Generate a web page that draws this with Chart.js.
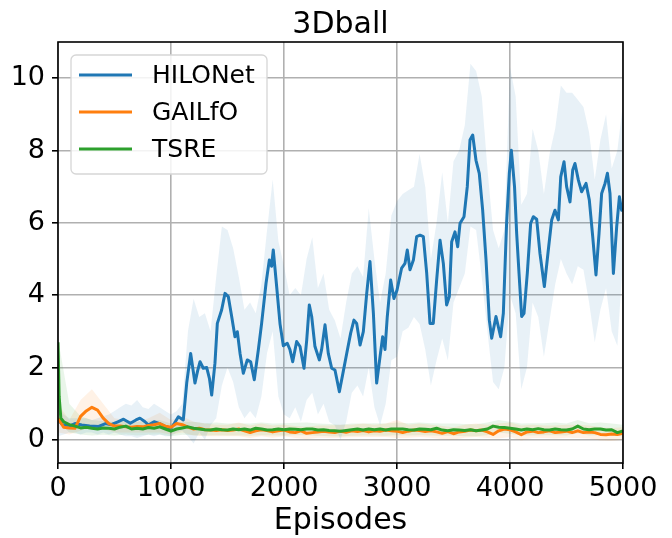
<!DOCTYPE html>
<html>
<head>
<meta charset="utf-8">
<script src="https://cdn.jsdelivr.net/npm/chart.js@4.4.1/dist/chart.umd.min.js"></script>
<style>
  html, body { margin: 0; padding: 0; background: #fff; }
  #chart { display: block; }
</style>
</head>
<body>
<canvas id="chart" width="672" height="538"></canvas>
<script>
// tick labels
const xTicks = [0, 1000, 2000, 3000, 4000, 5000];
const yTicks = [0, 2, 4, 6, 8, 10];

// HILONet mean curve
const hiloEpisodes = [0, 40, 100, 150, 210, 280, 360, 420, 470, 530, 580, 640, 690, 725, 770, 800, 850, 900, 950, 1000,
  1030, 1065, 1109, 1139, 1174, 1212, 1235, 1257, 1286, 1316, 1340, 1360, 1389, 1410, 1448, 1478, 1507, 1537, 1566, 1587,
  1611, 1640, 1675, 1705, 1737, 1773, 1802, 1841, 1870, 1890, 1905, 1935, 1965, 1994, 2029, 2053, 2077, 2112, 2142, 2177,
  2201, 2224, 2245, 2274, 2313, 2333, 2363, 2392, 2422, 2451, 2490, 2525, 2555, 2590, 2619, 2643, 2673, 2702, 2732, 2761,
  2791, 2820, 2850, 2873, 2894, 2914, 2944, 2973, 3000, 3041, 3071, 3091, 3115, 3145, 3174, 3204, 3233, 3263, 3292, 3321,
  3351, 3381, 3410, 3439, 3463, 3484, 3513, 3537, 3558, 3593, 3622, 3646, 3670, 3699, 3728, 3758, 3788, 3817, 3838, 3876,
  3917, 3941, 3970, 3994, 4012, 4040, 4059, 4080, 4103, 4124, 4153, 4183, 4207, 4236, 4265, 4304, 4339, 4369, 4398, 4428,
  4449, 4478, 4501, 4531, 4555, 4575, 4605, 4634, 4673, 4702, 4732, 4761, 4788, 4811, 4841, 4862, 4885, 4915, 4944, 4968,
  4988, 5000];
const hiloValues = [0.55, 0.42, 0.38, 0.45, 0.41, 0.38, 0.37, 0.45, 0.42, 0.5, 0.57, 0.46, 0.55, 0.6, 0.5, 0.41, 0.5, 0.45, 0.37, 0.32,
  0.46, 0.64, 0.55, 1.57, 2.39, 1.57, 1.9, 2.16, 1.98, 2.0, 1.7, 1.24, 2.12, 3.22, 3.59, 4.05, 3.96, 3.41, 2.85, 2.99,
  2.39, 1.84, 2.21, 2.16, 1.66, 2.49, 3.22, 4.33, 4.97, 4.8, 5.25, 4.24, 3.2, 2.6, 2.67, 2.49, 2.16, 2.72, 2.58, 1.98,
  2.76, 3.73, 3.41, 2.58, 2.21, 2.5, 3.18, 2.39, 1.98, 1.93, 1.33, 1.9, 2.39, 2.95, 3.31, 3.22, 2.62, 2.99, 4.05, 4.93,
  3.5, 1.57, 2.3, 2.85, 2.5, 3.41, 4.42, 3.91, 4.14, 4.75, 4.88, 5.25, 4.7, 4.97, 5.62, 5.66, 5.62, 4.6, 3.22, 3.22,
  4.42, 5.52, 4.88, 3.73, 3.96, 5.48, 5.75, 5.34, 5.99, 6.17, 7.0, 8.29, 8.43, 7.73, 7.37, 6.35, 4.97, 3.31, 2.81, 3.41,
  2.85, 3.5, 6.0, 7.37, 8.01, 7.0, 5.71, 4.6, 3.41, 3.5, 4.6, 5.99, 6.17, 6.1, 5.16, 4.24, 5.25, 6.08, 6.35, 6.08,
  7.27, 7.69, 7.0, 6.58, 7.46, 7.64, 7.18, 6.86, 7.09, 6.63, 5.62, 4.56, 5.71, 6.81, 7.09, 7.37, 6.81, 4.6, 5.89, 6.72,
  6.35, 6.4];

// HILONet shaded band
const bandEpisodes = [0, 50, 100, 150, 200, 250, 300, 350, 400, 450, 500, 550, 600, 650, 700, 750, 800, 850, 900, 950,
  1000, 1050, 1100, 1150, 1200, 1250, 1300, 1350, 1400, 1450, 1500, 1550, 1600, 1650, 1700, 1750, 1800, 1850, 1900, 1950,
  2000, 2050, 2100, 2150, 2200, 2250, 2300, 2350, 2400, 2450, 2500, 2550, 2600, 2650, 2700, 2750, 2800, 2850, 2900, 2950,
  3000, 3050, 3100, 3150, 3200, 3250, 3300, 3350, 3400, 3450, 3500, 3550, 3600, 3650, 3700, 3750, 3800, 3850, 3900, 3950,
  4000, 4050, 4100, 4150, 4200, 4250, 4300, 4350, 4400, 4450, 4500, 4550, 4600, 4650, 4700, 4750, 4800, 4850, 4900, 4950,
  5000];
const hiloUpper = [1.0, 0.7, 0.6, 0.6, 0.6, 0.6, 0.55, 0.6, 0.65, 0.7, 0.8, 0.9, 1.0, 0.95, 1.1, 0.9, 0.85, 1.0, 0.9, 0.8,
  0.7, 0.8, 1.0, 3.0, 3.9, 3.4, 3.5, 3.0, 4.5, 5.9, 5.8, 5.3, 4.5, 3.6, 3.8, 3.5, 4.3, 5.8, 7.2, 5.5,
  4.8, 4.0, 4.2, 4.0, 5.0, 5.6, 4.2, 4.6, 3.6, 3.3, 2.8, 3.8, 4.6, 4.8, 4.5, 6.4, 5.0, 3.8, 4.6, 6.2,
  6.6, 6.8, 6.9, 7.0, 7.9, 7.0, 5.0, 6.0, 7.4, 6.0, 7.7, 8.0, 8.7, 10.4, 10.2, 9.5, 7.5, 5.8, 5.3, 5.8,
  10.3, 9.5, 6.5, 6.8, 8.6, 8.0, 6.8, 7.9, 8.6, 9.8, 9.6, 9.6, 9.4, 9.2, 8.5, 7.2, 8.3, 9.0, 7.5, 8.0,
  9.3];
const hiloLower = [0.1, 0.15, 0.2, 0.2, 0.15, 0.2, 0.2, 0.15, 0.2, 0.15, 0.2, 0.15, 0.1, 0.1, 0.05, 0.1, 0.15, 0.1, 0.15, 0.1,
  0.1, 0.2, 0.25, 0.1, -0.1, 0.2, 0.0, 0.4, 0.6, 1.5, 2.0, 1.6, 0.9, 0.6, 0.8, 0.6, 1.2, 2.4, 3.0, 1.2,
  0.7, 0.6, 0.9, 0.5, 1.1, 1.3, 0.7, 1.0, 0.5, 0.4, 0.0, 0.5, 1.3, 1.5, 1.2, 2.0, 0.9, 0.4, 1.0, 2.2,
  2.3, 3.0, 3.1, 3.4, 3.2, 2.5, 1.5, 2.2, 2.8, 2.2, 3.8, 4.2, 4.6, 5.9, 5.8, 4.5, 3.0, 1.6, 1.4, 2.0,
  4.0, 3.5, 1.4, 2.0, 3.8, 3.4, 2.3, 3.3, 4.3, 5.0, 4.6, 4.3, 4.8, 4.7, 3.8, 2.7, 3.6, 4.2, 3.0, 2.6,
  5.0];

// GAILfO mean curve (same episodes as the HILONet band)
const gailValues = [0.6, 0.35, 0.33, 0.32, 0.65, 0.8, 0.9, 0.82, 0.6, 0.45, 0.38, 0.38, 0.36, 0.35, 0.37, 0.36, 0.4, 0.42, 0.45, 0.38,
  0.35, 0.45, 0.42, 0.35, 0.3, 0.32, 0.28, 0.27, 0.26, 0.28, 0.26, 0.27, 0.3, 0.25, 0.2, 0.25, 0.28, 0.26, 0.22, 0.25,
  0.27, 0.22, 0.2, 0.25, 0.18, 0.2, 0.22, 0.24, 0.22, 0.2, 0.24, 0.21, 0.25, 0.23, 0.26, 0.22, 0.25, 0.24, 0.27, 0.25,
  0.24, 0.2, 0.24, 0.27, 0.26, 0.23, 0.25, 0.22, 0.18, 0.23, 0.17, 0.22, 0.24, 0.27, 0.25, 0.27, 0.22, 0.15, 0.25, 0.3,
  0.28, 0.22, 0.14, 0.22, 0.24, 0.2, 0.22, 0.25, 0.2, 0.22, 0.24, 0.2, 0.25, 0.2, 0.22, 0.2, 0.15, 0.14, 0.16, 0.15,
  0.18];

// TSRE mean curve
const tsreEpisodes = [0, 10, 25, 50, 100, 150, 200, 250, 300, 350, 400, 450, 500, 550, 600, 650, 700, 750, 800, 850, 900, 950,
  1000, 1050, 1100, 1150, 1200, 1250, 1300, 1350, 1400, 1450, 1500, 1550, 1600, 1650, 1700, 1750, 1800, 1850, 1900, 1950,
  2000, 2050, 2100, 2150, 2200, 2250, 2300, 2350, 2400, 2450, 2500, 2550, 2600, 2650, 2700, 2750, 2800, 2850, 2900, 2950,
  3000, 3050, 3100, 3150, 3200, 3250, 3300, 3350, 3400, 3450, 3500, 3550, 3600, 3650, 3700, 3750, 3800, 3850, 3900, 3950,
  4000, 4050, 4100, 4150, 4200, 4250, 4300, 4350, 4400, 4450, 4500, 4550, 4600, 4650, 4700, 4750, 4800, 4850, 4900, 4950,
  5000];
const tsreValues = [2.7, 1.2, 0.6, 0.5, 0.42, 0.38, 0.33, 0.35, 0.32, 0.3, 0.33, 0.32, 0.3, 0.35, 0.38, 0.3, 0.32, 0.3, 0.34, 0.32, 0.36, 0.3,
  0.24, 0.3, 0.33, 0.36, 0.32, 0.3, 0.28, 0.27, 0.3, 0.28, 0.27, 0.3, 0.28, 0.3, 0.27, 0.32, 0.3, 0.27, 0.28, 0.3,
  0.28, 0.3, 0.29, 0.28, 0.3, 0.3, 0.27, 0.28, 0.26, 0.25, 0.24, 0.26, 0.28, 0.3, 0.27, 0.3, 0.28, 0.3, 0.27, 0.3,
  0.3, 0.3, 0.28, 0.27, 0.3, 0.29, 0.28, 0.32, 0.27, 0.25, 0.28, 0.27, 0.26, 0.28, 0.25, 0.27, 0.3, 0.38, 0.35, 0.34,
  0.32, 0.3, 0.27, 0.3, 0.28, 0.31, 0.28, 0.27, 0.3, 0.28, 0.27, 0.3, 0.38, 0.3, 0.28, 0.3, 0.3, 0.27, 0.28, 0.2,
  0.25];

// GAILfO / TSRE shaded bands
const smallBandEpisodes = [0, 100, 200, 300, 400, 500, 600, 700, 800, 900, 1000, 1100, 1200, 1300, 1400, 1500, 1600, 1700, 1800, 1900,
  2000, 2100, 2200, 2300, 2400, 2500, 2600, 2700, 2800, 2900, 3000, 3100, 3200, 3300, 3400, 3500, 3600, 3700, 3800, 3900,
  4000, 4100, 4200, 4300, 4400, 4500, 4600, 4700, 4800, 4900, 5000];
const gailUpper = [1.0, 0.55, 1.1, 1.4, 1.0, 0.6, 0.55, 0.5, 0.6, 0.75, 0.55, 0.65, 0.5, 0.45, 0.42, 0.42, 0.48, 0.4, 0.45, 0.4,
  0.42, 0.38, 0.36, 0.4, 0.4, 0.42, 0.42, 0.45, 0.42, 0.45, 0.55, 0.42, 0.45, 0.42, 0.38, 0.35, 0.42, 0.45, 0.42, 0.45,
  0.48, 0.4, 0.42, 0.4, 0.4, 0.42, 0.42, 0.4, 0.35, 0.33, 0.35];
const gailLower = [0.2, 0.15, 0.25, 0.4, 0.3, 0.2, 0.2, 0.2, 0.2, 0.2, 0.15, 0.2, 0.12, 0.1, 0.1, 0.1, 0.1, 0.05, 0.1, 0.06,
  0.1, 0.05, 0.02, 0.06, 0.05, 0.06, 0.07, 0.08, 0.08, 0.08, 0.05, 0.06, 0.08, 0.06, 0.02, 0.0, 0.06, 0.08, 0.05, 0.04,
  0.08, -0.02, 0.05, 0.05, 0.04, 0.06, 0.05, 0.04, -0.02, -0.03, 0.0];
const tsreUpper = [2.8, 1.0, 0.65, 0.55, 0.52, 0.5, 0.55, 0.5, 0.52, 0.55, 0.45, 0.5, 0.5, 0.46, 0.48, 0.45, 0.46, 0.45, 0.48, 0.45,
  0.46, 0.47, 0.48, 0.45, 0.44, 0.42, 0.45, 0.45, 0.46, 0.45, 0.48, 0.46, 0.48, 0.46, 0.45, 0.45, 0.44, 0.43, 0.48, 0.55,
  0.5, 0.45, 0.46, 0.46, 0.48, 0.45, 0.55, 0.46, 0.48, 0.45, 0.42];
const tsreLower = [0.5, 0.2, 0.15, 0.12, 0.14, 0.12, 0.15, 0.12, 0.14, 0.15, 0.1, 0.14, 0.13, 0.12, 0.13, 0.12, 0.12, 0.11, 0.13, 0.12,
  0.12, 0.13, 0.13, 0.11, 0.1, 0.09, 0.11, 0.12, 0.12, 0.11, 0.13, 0.12, 0.13, 0.12, 0.11, 0.11, 0.1, 0.1, 0.13, 0.2,
  0.17, 0.12, 0.12, 0.13, 0.13, 0.12, 0.18, 0.12, 0.13, 0.11, 0.1];

const FONT = 'DejaVu Sans';
const TITLE = '3Dball';

function pts(xs, ys) {
  return xs.map((x, i) => ({ x: x, y: ys[i] }));
}

function lineSet(label, xs, ys, color, order) {
  return {
    label: label, data: pts(xs, ys), borderColor: color, backgroundColor: color,
    borderWidth: 3, pointRadius: 0, tension: 0, fill: false, order: order,
    borderJoinStyle: 'round', inLegend: true
  };
}

function bandSet(xs, ys, fillColor, fillTo, order) {
  return {
    label: '', data: pts(xs, ys), borderColor: 'rgba(0,0,0,0)', borderWidth: 0,
    backgroundColor: fillColor, pointRadius: 0, tension: 0, fill: fillTo, order: order
  };
}

// title over the plot area, frame on all four sides, matplotlib-like legend
const frameAndLegend = {
  id: 'frameAndLegend',
  afterDraw(chart) {
    const ctx = chart.ctx;
    const a = chart.chartArea;
    ctx.save();
    ctx.fillStyle = '#000';
    ctx.font = '30px "' + FONT + '"';
    ctx.textAlign = 'center';
    ctx.textBaseline = 'alphabetic';
    ctx.fillText(TITLE, (a.left + a.right) / 2, 32.5);

    ctx.strokeStyle = '#000';
    ctx.lineWidth = 1.6;
    ctx.strokeRect(a.left, a.top, a.right - a.left, a.bottom - a.top);

    const x0 = a.left + 13, y0 = a.top + 13, w = 196, h = 119;
    ctx.beginPath();
    ctx.roundRect(x0, y0, w, h, 5);
    ctx.fillStyle = 'rgba(255,255,255,0.85)';
    ctx.fill();
    ctx.strokeStyle = '#d6d6d6';
    ctx.lineWidth = 1.3;
    ctx.stroke();

    const entries = chart.data.datasets.filter(d => d.inLegend);
    ctx.font = '25px "' + FONT + '"';
    ctx.textBaseline = 'middle';
    ctx.textAlign = 'left';
    entries.forEach((d, i) => {
      const y = y0 + 20 + i * 37;
      ctx.strokeStyle = d.borderColor;
      ctx.lineWidth = 3;
      ctx.beginPath();
      ctx.moveTo(x0 + 8, y);
      ctx.lineTo(x0 + 61, y);
      ctx.stroke();
      ctx.fillStyle = '#000';
      ctx.fillText(d.label, x0 + 81, y + 1.5);
    });
    ctx.restore();
  }
};

new Chart(document.getElementById('chart'), {
  type: 'line',
  data: {
    datasets: [
      lineSet('HILONet', hiloEpisodes, hiloValues, '#1f77b4', 3),
      lineSet('GAILfO', bandEpisodes, gailValues, '#ff7f0e', 2),
      lineSet('TSRE', tsreEpisodes, tsreValues, '#2ca02c', 1),
      bandSet(bandEpisodes, hiloUpper, 'rgba(31,119,180,0.1)', '+1', 10),
      bandSet(bandEpisodes, hiloLower, 'rgba(0,0,0,0)', false, 11),
      bandSet(smallBandEpisodes, gailUpper, 'rgba(255,127,14,0.1)', '+1', 12),
      bandSet(smallBandEpisodes, gailLower, 'rgba(0,0,0,0)', false, 13),
      bandSet(smallBandEpisodes, tsreUpper, 'rgba(44,160,44,0.1)', '+1', 14),
      bandSet(smallBandEpisodes, tsreLower, 'rgba(0,0,0,0)', false, 15)
    ]
  },
  options: {
    responsive: false,
    animation: false,
    events: [],
    layout: { padding: { left: 0, right: 49, top: 42, bottom: 0 } },
    plugins: {
      legend: { display: false },
      tooltip: { enabled: false },
      title: { display: false }
    },
    scales: {
      x: {
        type: 'linear',
        min: 0,
        max: 5000,
        afterBuildTicks: s => { s.ticks = xTicks.map(v => ({ value: v })); },
        afterFit: s => { s.height = 75; },
        ticks: { color: '#000', font: { family: FONT, size: 27 }, padding: 4, maxRotation: 0,
          callback: v => String(v) },
        grid: { color: '#b0b0b0', lineWidth: 1.6, tickColor: '#000', tickLength: 6, tickWidth: 1.6 },
        border: { display: false },
        title: {
          display: true,
          text: 'Episodes',
          color: '#000',
          font: { family: FONT, size: 30, lineHeight: 1.1 },
          padding: { top: 0, bottom: 0 }
        }
      },
      y: {
        type: 'linear',
        min: -0.64,
        max: 11,
        afterBuildTicks: s => { s.ticks = yTicks.map(v => ({ value: v })); },
        afterFit: s => { s.width = 58; },
        ticks: { color: '#000', font: { family: FONT, size: 27 }, padding: 7,
          callback: v => String(v) },
        grid: { color: '#b0b0b0', lineWidth: 1.6, tickColor: '#000', tickLength: 6, tickWidth: 1.6 },
        border: { display: false }
      }
    }
  },
  plugins: [frameAndLegend]
});
</script>
</body>
</html>
